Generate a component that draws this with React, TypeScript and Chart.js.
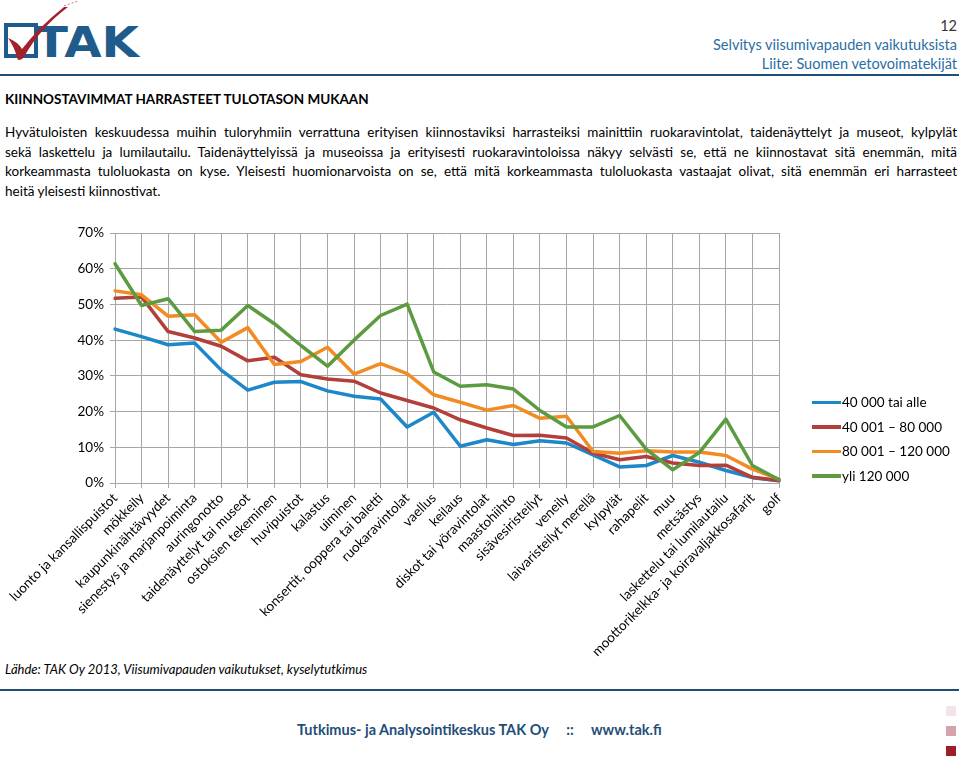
import React, { useEffect, useRef } from "react";
import { Chart, registerables } from "chart.js";

Chart.register(...registerables);

const categories = [
  "luonto ja kansallispuistot",
  "mökkeily",
  "kaupunkinähtävyydet",
  "sienestys ja marjanpoiminta",
  "auringonotto",
  "taidenäyttelyt tai museot",
  "ostoksien tekeminen",
  "huvipuistot",
  "kalastus",
  "uiminen",
  "konsertit, ooppera tai baletti",
  "ruokaravintolat",
  "vaellus",
  "keilaus",
  "diskot tai yöravintolat",
  "maastohiihto",
  "sisävesiristeilyt",
  "veneily",
  "laivaristeilyt merellä",
  "kylpylät",
  "rahapelit",
  "muu",
  "metsästys",
  "laskettelu tai lumilautailu",
  "moottorikelkka- ja koiravaljakkosafarit",
  "golf",
];

const seriesNames = ["40 000 tai alle", "40 001 – 80 000", "80 001 – 120 000", "yli 120 000"];

const income40 = [43.1, 41.0, 38.7, 39.2, 31.6, 26.0, 28.2, 28.4, 25.8, 24.3, 23.5, 15.7, 19.8, 10.3, 12.1, 10.8, 11.8, 11.2, 7.9, 4.5, 4.9, 7.7, 5.8, 3.5, 1.5, 0.6];
const income80 = [51.7, 52.1, 42.4, 40.6, 38.3, 34.2, 35.2, 30.3, 29.1, 28.5, 25.2, 23.1, 21.0, 17.7, 15.4, 13.3, 13.4, 12.6, 8.4, 6.5, 7.4, 5.6, 4.9, 5.0, 1.6, 0.7];
const income120 = [53.8, 52.7, 46.7, 47.1, 39.4, 43.5, 33.2, 34.0, 38.0, 30.5, 33.4, 30.6, 24.7, 22.6, 20.4, 21.7, 18.1, 18.7, 8.8, 8.3, 9.0, 8.7, 8.7, 7.7, 3.9, 1.1];
const incomeOver = [61.4, 49.7, 51.6, 42.4, 42.8, 49.7, 44.6, 38.5, 32.7, 40.0, 46.9, 50.1, 31.1, 27.1, 27.5, 26.3, 20.3, 15.7, 15.7, 18.9, 9.5, 3.7, 8.5, 17.9, 4.9, 0.9];

const yTicks = [0, 10, 20, 30, 40, 50, 60, 70];

const colors = ["#1C87C9", "#B23F3A", "#F28C22", "#5C9B40"];

const FONT = "Lato, 'Open Sans', sans-serif";
const NAVY = "#1F4E79";
const BLUE_TEXT = "#2A6EA6";

function LineChart() {
  const ref = useRef<HTMLCanvasElement | null>(null);
  useEffect(() => {
    if (!ref.current) return;
    const values = [income40, income80, income120, incomeOver];
    const chart = new Chart(ref.current, {
      type: "line",
      data: {
        labels: categories,
        datasets: values.map((v, i) => ({
          label: seriesNames[i],
          data: v,
          borderColor: colors[i],
          backgroundColor: colors[i],
          borderWidth: 3.5,
          pointRadius: 0,
          tension: 0,
          borderJoinStyle: "round" as const,
          borderCapStyle: "round" as const,
          order: 3 - i,
        })),
      },
      options: {
        animation: false,
        responsive: false,
        maintainAspectRatio: false,
        layout: { padding: { top: 13, right: 180, left: 0, bottom: 0 } },
        plugins: { legend: { display: false }, tooltip: { enabled: false } },
        scales: {
          x: {
            offset: false,
            grid: { color: "#A6A6A6", lineWidth: 1, offset: false, tickLength: 5, drawTicks: true },
            border: { color: "#A6A6A6" },
            ticks: {
              autoSkip: false,
              minRotation: 45,
              maxRotation: 45,
              padding: 2,
              color: "#000",
              font: { family: FONT, size: 13.5 },
            },
            afterFit: (s: any) => {
              s.height = 177;
              s.paddingLeft = 0;
              s.paddingRight = 0;
            },
          },
          y: {
            min: 0,
            max: 70,
            afterBuildTicks: (s: any) => {
              s.ticks = yTicks.map((v) => ({ value: v }));
            },
            grid: { color: "#A6A6A6", lineWidth: 1, tickLength: 5 },
            border: { color: "#A6A6A6" },
            ticks: {
              padding: 6,
              color: "#000",
              font: { family: FONT, size: 13.5 },
              callback: (v: any) => v + "%",
            },
            afterFit: (s: any) => {
              s.width = 115;
              s.paddingTop = 0;
              s.paddingBottom = 0;
            },
          },
        },
      },
    });
    return () => chart.destroy();
  }, []);
  return (
    <canvas
      ref={ref}
      width={959}
      height={440}
      style={{ position: "absolute", left: 0, top: 220, width: 959, height: 440 }}
    />
  );
}

const paraLines = [
  "Hyvätuloisten keskuudessa muihin tuloryhmiin verrattuna erityisen kiinnostaviksi harrasteiksi mainittiin ruokaravintolat, taidenäyttelyt ja museot, kylpylät",
  "sekä laskettelu ja lumilautailu. Taidenäyttelyissä ja museoissa ja erityisesti ruokaravintoloissa näkyy selvästi se, että ne kiinnostavat sitä enemmän, mitä",
  "korkeammasta tuloluokasta on kyse. Yleisesti huomionarvoista on se, että mitä korkeammasta tuloluokasta vastaajat olivat, sitä enemmän eri harrasteet",
  "heitä yleisesti kiinnostivat.",
];

export default function App() {
  return (
    <div
      style={{
        position: "absolute",
        left: 0,
        top: 0,
        width: 959,
        height: 760,
        background: "#fff",
        overflow: "hidden",
        fontFamily: FONT,
        color: "#000",
      }}
    >
      {/* Logo */}
      <svg width={150} height={70} style={{ position: "absolute", left: 0, top: 0 }}>
        <rect x={6} y={25} width={30} height={31} fill="none" stroke="#1F5C8B" strokeWidth={4} />
        <text
          x={35}
          y={57}
          fontFamily="'DejaVu Sans', sans-serif"
          fontWeight={900}
          fontSize={43}
          fill="#1F5C8B"
          textLength={104}
          lengthAdjust="spacingAndGlyphs"
        >
          TAK
        </text>
        <path d="M 8 38 Q 14 46 18 60 Q 22 60 24 57 Q 40 28 68 7 L 64 7 Q 40 26 22 49 Q 18 42 8 38 Z" fill="#A3222A" />
        <path d="M 64 6 L 78 1" stroke="#C08080" strokeWidth={1} strokeDasharray="2 2" />
      </svg>

      {/* Header right */}
      <div style={{ position: "absolute", right: 2, top: 16, textAlign: "right", color: BLUE_TEXT, fontSize: 14.5, lineHeight: "19px" }}>
        <div style={{ color: "#333" }}>12</div>
        <div>Selvitys viisumivapauden vaikutuksista</div>
        <div>Liite: Suomen vetovoimatekijät</div>
      </div>
      <div style={{ position: "absolute", left: 0, top: 74, width: 959, height: 2, background: NAVY }} />

      {/* Title */}
      <div style={{ position: "absolute", left: 5, top: 91, fontSize: 13.5, fontWeight: 700, whiteSpace: "nowrap" }}>
        KIINNOSTAVIMMAT HARRASTEET TULOTASON MUKAAN
      </div>

      {/* Paragraph */}
      <div style={{ position: "absolute", left: 5, top: 123, width: 952, fontSize: 13.5, lineHeight: "19.7px" }}>
        {paraLines.map((l, i) => (
          <div
            key={i}
            style={{
              textAlign: i < 3 ? "justify" : "left",
              textAlignLast: i < 3 ? "justify" : "left",
              whiteSpace: "nowrap",
            } as any}
          >
            {l}
          </div>
        ))}
      </div>

      <LineChart />

      {/* Legend */}
      <div style={{ position: "absolute", left: 812, top: 390, fontSize: 13.5 }}>
        {seriesNames.map((n, i) => (
          <div key={i} style={{ display: "flex", alignItems: "center", height: 24.5 }}>
            <div style={{ width: 29, height: 3.5, background: colors[i], marginRight: 1 }} />
            <span>{n}</span>
          </div>
        ))}
      </div>

      {/* Source */}
      <div style={{ position: "absolute", left: 5, top: 661, fontSize: 13, fontStyle: "italic", whiteSpace: "nowrap" }}>
        Lähde: TAK Oy 2013, Viisumivapauden vaikutukset, kyselytutkimus
      </div>
      <div style={{ position: "absolute", left: 0, top: 689, width: 959, height: 2, background: NAVY }} />

      {/* Footer */}
      <div
        style={{
          position: "absolute",
          left: 297,
          top: 721,
          fontSize: 14.5,
          fontWeight: 700,
          color: NAVY,
          whiteSpace: "pre",
        }}
      >
        {"Tutkimus- ja Analysointikeskus TAK Oy     ::     www.tak.fi"}
      </div>
      <div style={{ position: "absolute", left: 946, top: 706, width: 10, height: 10, background: "#F2E4E7" }} />
      <div style={{ position: "absolute", left: 946, top: 726, width: 10, height: 10, background: "#D6A3AA" }} />
      <div style={{ position: "absolute", left: 946, top: 746, width: 10, height: 10, background: "#9E1E26" }} />
    </div>
  );
}
